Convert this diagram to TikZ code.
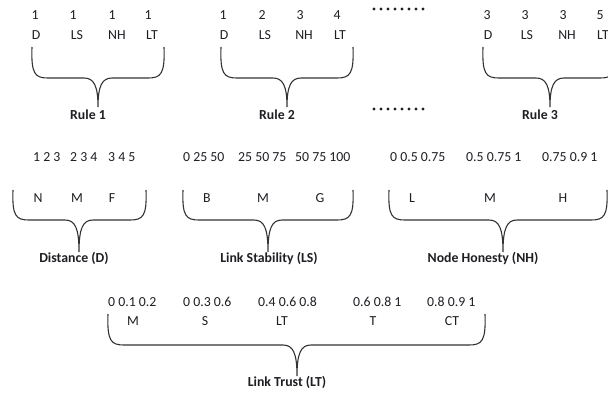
\documentclass[tikz,border=0pt]{standalone}
\usepackage{fontspec}
\setmainfont{Carlito}
\definecolor{txt}{RGB}{30,30,35}
\definecolor{ln}{RGB}{50,50,50}
\tikzset{
 lbl/.style={font=\fontsize{13.8}{16}\selectfont, text=txt, inner sep=0pt},
 ttl/.style={font=\fontsize{13.8}{16}\selectfont\bfseries, text=txt, inner sep=0pt},
 bracepath/.style={draw=ln, line width=1.1pt},
 dotfill/.style={fill=txt, draw=none},
}
% #1 x left, #2 x right, #3 x tip, #4 y top, #5 y bottom, #6 y tip
\newcommand\mybrace[6]{%
 \draw[bracepath] (#1,#4) .. controls (#1-1,#5-4) and (#1+3,#5) .. (#1+16,#5)
   -- (#3-14,#5) .. controls (#3-4,#5) and (#3,#5+8) .. (#3,#6)
   .. controls (#3,#5+8) and (#3+4,#5) .. (#3+14,#5)
   -- (#2-16,#5) .. controls (#2-3,#5) and (#2+1,#5-4) .. (#2,#4);
}
\newcommand\mydots[2]{%
 \foreach \k in {0,...,7} {\fill[dotfill] (#1+\k*7,#2) circle (1.7);}
}
\begin{document}
\begin{tikzpicture}[x=1pt,y=-1pt]
\useasboundingbox (0,0) rectangle (608,394);
\clip (0,0) rectangle (608,394);
% Rule 1
\node[lbl] (r1a) at (35,15) {1};
\node[lbl] (r1b) at (73,15) {1};
\node[lbl] (r1c) at (112,15) {1};
\node[lbl] (r1d) at (148,15) {1};
\node[lbl] (r1D) at (36,35) {D};
\node[lbl] (r1LS) at (77,35) {LS};
\node[lbl] (r1NH) at (117,35) {NH};
\node[lbl] (r1LT) at (152,35) {LT};
\mybrace{32}{164}{98}{47}{78}{107}
\node[ttl] (rule1) at (88,115) {Rule 1};
% Rule 2
\node[lbl] (r2a) at (223,15) {1};
\node[lbl] (r2b) at (262,15) {2};
\node[lbl] (r2c) at (300,15) {3};
\node[lbl] (r2d) at (337,15) {4};
\node[lbl] (r2D) at (224,35) {D};
\node[lbl] (r2LS) at (265,35) {LS};
\node[lbl] (r2NH) at (304,35) {NH};
\node[lbl] (r2LT) at (340,35) {LT};
\mybrace{221}{353}{287}{47}{78}{107}
\node[ttl] (rule2) at (277,115) {Rule 2};
% dots
\mydots{374}{9}
\mydots{374}{109}
% Rule 3
\node[lbl] (r3a) at (487,15) {3};
\node[lbl] (r3b) at (525,15) {3};
\node[lbl] (r3c) at (563,15) {3};
\node[lbl] (r3d) at (600,15) {5};
\node[lbl] (r3D) at (488,35) {D};
\node[lbl] (r3LS) at (527,35) {LS};
\node[lbl] (r3NH) at (567,35) {NH};
\node[lbl] (r3LT) at (603,35) {LT};
\mybrace{483}{616}{550}{47}{78}{107}
\node[ttl] (rule3) at (540,115) {Rule 3};
% Distance
\node[lbl,anchor=west] (dn) at (33,157) {1 2 3};
\node[lbl,anchor=west] (dm) at (70,157) {2 3 4};
\node[lbl,anchor=west] (df) at (108,157) {3 4 5};
\node[lbl] (dN) at (38,198) {N};
\node[lbl] (dM) at (77,198) {M};
\node[lbl] (dF) at (112,198) {F};
\mybrace{13}{146}{79}{190}{220}{252}
\node[ttl] (dist) at (74,258) {Distance (D)};
% Link Stability
\node[lbl,anchor=west] (lsb) at (183,157) {0 25 50};
\node[lbl,anchor=west] (lsm) at (238,157) {25 50 75};
\node[lbl,anchor=west] (lsg) at (295,157) {50 75 100};
\node[lbl] (lsB) at (207,198) {B};
\node[lbl] (lsM) at (263,198) {M};
\node[lbl] (lsG) at (320,198) {G};
\mybrace{183}{353}{268}{190}{220}{252}
\node[ttl] (linkstab) at (269,258) {Link Stability (LS)};
% Node Honesty
\node[lbl,anchor=west] (nhl) at (390,157) {0 0.5 0.75};
\node[lbl,anchor=west] (nhm) at (466,157) {0.5 0.75 1};
\node[lbl,anchor=west] (nhh) at (542,157) {0.75 0.9 1};
\node[lbl] (nhL) at (412,198) {L};
\node[lbl] (nhM) at (490,198) {M};
\node[lbl] (nhH) at (563,198) {H};
\mybrace{389}{607}{503}{190}{220}{252}
\node[ttl] (nodehon) at (483,258) {Node Honesty (NH)};
% Link Trust
\node[lbl,anchor=west] (ltm) at (108,302) {0 0.1 0.2};
\node[lbl,anchor=west] (lts) at (183,302) {0 0.3 0.6};
\node[lbl,anchor=west] (ltlt) at (258,302) {0.4 0.6 0.8};
\node[lbl,anchor=west] (ltt) at (353,302) {0.6 0.8 1};
\node[lbl,anchor=west] (ltct) at (427,302) {0.8 0.9 1};
\node[lbl] (ltM) at (133,321) {M};
\node[lbl] (ltS) at (205,321) {S};
\node[lbl] (ltLT) at (282,321) {LT};
\node[lbl] (ltT) at (373,321) {T};
\node[lbl] (ltCT) at (452,321) {CT};
\mybrace{108}{485}{297}{314}{345}{376}
\node[ttl] (linktrust) at (287,382) {Link Trust (LT)};
\end{tikzpicture}
\end{document}
